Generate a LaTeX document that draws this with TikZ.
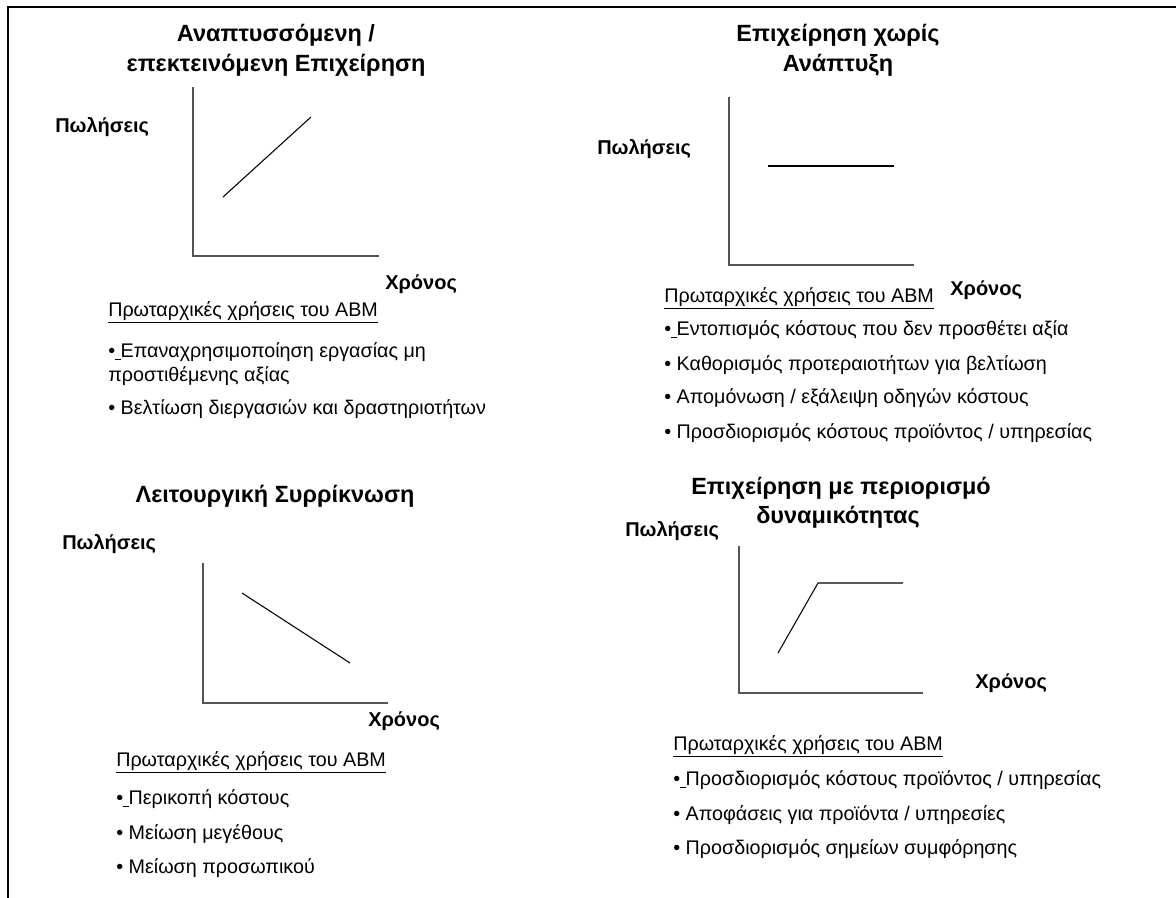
\documentclass[tikz,border=0pt]{standalone}
\usepackage{fontspec}
\setmainfont{Liberation Sans}
\begin{document}
\begin{tikzpicture}[x=0.75pt,y=-0.75pt,every node/.style={inner sep=0pt}]
\tikzset{
  title/.style={anchor=base,align=center,font=\fontsize{17.6}{21}\selectfont\bfseries},
  axislabel/.style={anchor=base west,font=\fontsize{15}{18}\selectfont\bfseries},
  body/.style={anchor=base west,font=\fontsize{14.8}{18}\selectfont},
  frame/.style={line width=1.8pt,black},
  axis/.style={line width=1.1pt,draw={rgb,255:red,85;green,85;blue,85}},
  trend/.style={line width=0.8pt,black},
}
\useasboundingbox (0,0) rectangle (1176,898);
% page frame (top and left edges)
\draw[frame] (8,898) -- (8,7) -- (1176,7);

% ---- growing / expanding business
\node[title] (t1a) at (276,42) {Αναπτυσσόμενη /};
\node[title] (t1b) at (276,72) {επεκτεινόμενη Επιχείρηση};
\node[axislabel] (y1) at (55,133) {Πωλήσεις};
\draw[axis] (193,87) -- (193,256) -- (379,256);
\draw[trend] (223,197) -- (311,117);
\node[axislabel] (x1) at (385,290) {Χρόνος};
\node[body] (h1) at (108,316) {\underline{Πρωταρχικές χρήσεις του ABM}};
\node[body] (b1a) at (108,357) {•\underline{\ }Επαναχρησιμοποίηση εργασίας μη};
\node[body] (b1b) at (108,381) {προστιθέμενης αξίας};
\node[body] (b1c) at (108,414) {• Βελτίωση διεργασιών και δραστηριοτήτων};

% ---- business without growth
\node[title] (t2a) at (838,42) {Επιχείρηση χωρίς};
\node[title] (t2b) at (838,72) {Ανάπτυξη};
\node[axislabel] (y2) at (597,155) {Πωλήσεις};
\draw[axis] (729,97) -- (729,265) -- (914,265);
\draw[trend] (768,166) -- (894,166);
\node[axislabel] (x2) at (950,296) {Χρόνος};
\node[body] (h2) at (664,302) {\underline{Πρωταρχικές χρήσεις του ABM}};
\node[body] (b2a) at (664,335) {•\underline{\ }Εντοπισμός κόστους που δεν προσθέτει αξία};
\node[body] (b2b) at (664,370) {• Καθορισμός προτεραιοτήτων για βελτίωση};
\node[body] (b2c) at (664,403) {• Απομόνωση / εξάλειψη οδηγών κόστους};
\node[body] (b2d) at (664,438) {• Προσδιορισμός κόστους προϊόντος / υπηρεσίας};

% ---- operational shrinkage
\node[title] (t3) at (275,502) {Λειτουργική Συρρίκνωση};
\node[axislabel] (y3) at (62,549) {Πωλήσεις};
\draw[axis] (203,563) -- (203,703) -- (388,703);
\draw[trend] (242,593) -- (350,663);
\node[axislabel] (x3) at (368,726) {Χρόνος};
\node[body] (h3) at (116,766) {\underline{Πρωταρχικές χρήσεις του ABM}};
\node[body] (b3a) at (116,804) {•\underline{\ }Περικοπή κόστους};
\node[body] (b3b) at (116,839) {• Μείωση μεγέθους};
\node[body] (b3c) at (116,873) {• Μείωση προσωπικού};

% ---- capacity-constrained business
\node[title] (t4a) at (841,494) {Επιχείρηση με περιορισμό};
\node[title] (t4b) at (838,523) {δυναμικότητας};
\node[axislabel] (y4) at (625,536) {Πωλήσεις};
\draw[axis] (739,546) -- (739,693) -- (923,693);
\draw[trend] (778,653) -- (818,583) -- (903,583);
\node[axislabel] (x4) at (975,688) {Χρόνος};
\node[body] (h4) at (673,750) {\underline{Πρωταρχικές χρήσεις του ABM}};
\node[body] (b4a) at (673,785) {•\underline{\ }Προσδιορισμός κόστους προϊόντος / υπηρεσίας};
\node[body] (b4b) at (673,820) {• Αποφάσεις για προϊόντα / υπηρεσίες};
\node[body] (b4c) at (673,854) {• Προσδιορισμός σημείων συμφόρησης};
\end{tikzpicture}
\end{document}
